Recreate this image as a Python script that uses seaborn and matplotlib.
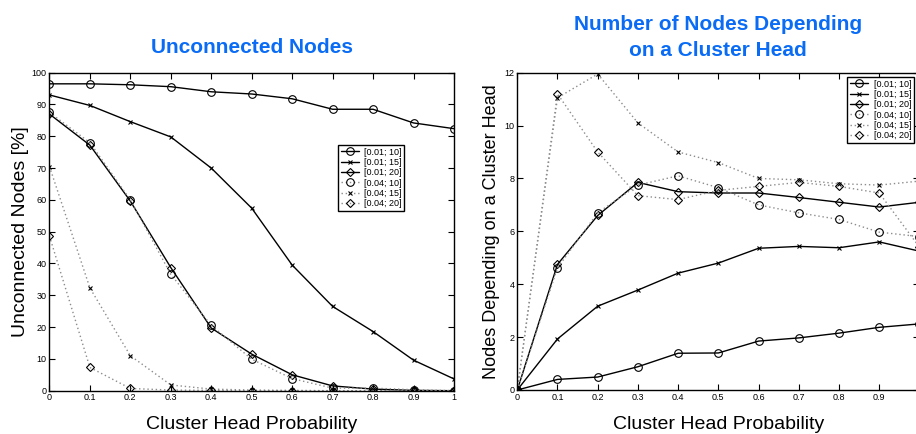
"""
Cluster head probability: unconnected nodes and nodes per cluster head.
Two side-by-side MATLAB-style line charts, saved as out.png.
"""

import matplotlib
matplotlib.use("Agg")

import matplotlib.pyplot as plt
import seaborn as sns

sns.set_theme(style="ticks")
plt.rcParams["font.family"] = ["Liberation Sans", "DejaVu Sans"]
plt.rcParams["text.color"] = "black"
plt.rcParams["axes.labelcolor"] = "black"

# Probabilidade de cluster head (eixo x)
prob = [0.0, 0.1, 0.2, 0.3, 0.4, 0.5, 0.6, 0.7, 0.8, 0.9, 1.0]
x_ticks = [0, 0.1, 0.2, 0.3, 0.4, 0.5, 0.6, 0.7, 0.8, 0.9, 1]
x_labels = ["0", "0.1", "0.2", "0.3", "0.4", "0.5", "0.6", "0.7", "0.8", "0.9", "1"]

series_names = ["[0.01; 10]", "[0.01; 15]", "[0.01; 20]",
                "[0.04; 10]", "[0.04; 15]", "[0.04; 20]"]

# Unconnected nodes [%]
unc_001_10 = [96.5, 96.5, 96.2, 95.6, 94.0, 93.3, 91.8, 88.5, 88.5, 84.2, 82.4]
unc_001_15 = [93.0, 89.7, 84.6, 79.8, 70.0, 57.4, 39.5, 26.5, 18.6, 9.6, 3.7]
unc_001_20 = [87.0, 77.2, 59.6, 38.7, 19.7, 11.5, 5.0, 1.5, 0.5, 0.1, 0.0]
unc_004_10 = [87.5, 78.0, 60.0, 36.6, 20.5, 9.9, 3.8, 0.8, 0.8, 0.3, 0.0]
unc_004_15 = [70.5, 32.3, 11.0, 1.8, 0.5, 0.2, 0.1, 0.0, 0.0, 0.0, 0.0]
unc_004_20 = [48.6, 7.3, 0.7, 0.2, 0.1, 0.0, 0.0, 0.0, 0.0, 0.0, 0.0]

# Nodes depending on a cluster head
dep_001_10 = [0.0, 0.40, 0.49, 0.88, 1.39, 1.40, 1.85, 1.97, 2.15, 2.37, 2.5]
dep_001_15 = [0.0, 1.93, 3.17, 3.78, 4.42, 4.80, 5.36, 5.43, 5.38, 5.60, 5.25]
dep_001_20 = [0.0, 4.75, 6.60, 7.85, 7.50, 7.45, 7.45, 7.28, 7.10, 6.92, 7.1]
dep_004_10 = [0.0, 4.62, 6.70, 7.75, 8.10, 7.65, 7.00, 6.70, 6.45, 5.97, 5.8]
dep_004_15 = [0.0, 11.05, 11.95, 10.10, 9.00, 8.60, 8.00, 7.95, 7.80, 7.75, 7.9]
dep_004_20 = [0.0, 11.20, 9.00, 7.35, 7.20, 7.55, 7.70, 7.85, 7.70, 7.45, 5.4]

unconnected = [unc_001_10, unc_001_15, unc_001_20, unc_004_10, unc_004_15, unc_004_20]
depending = [dep_001_10, dep_001_15, dep_001_20, dep_004_10, dep_004_15, dep_004_20]

markers = ["o", "x", "D", "o", "x", "D"]
msizes = [5.5, 3.5, 4.3, 5.5, 3.5, 4.3]
solid = [True, True, True, False, False, False]

TITLE_BLUE = "#0a6cf5"


def desenha(ax, dados, legend_loc, x_labels):
    for nome, ys, mk, ms, cheia in zip(series_names, dados, markers, msizes, solid):
        sns.lineplot(x=prob, y=ys, ax=ax, label=nome,
                     color="black" if cheia else "#8c8c8c",
                     linestyle="-" if cheia else (0, (1, 2)),
                     linewidth=1.0,
                     marker=mk, markersize=ms,
                     markerfacecolor="none", markeredgecolor="black",
                     markeredgewidth=0.8)
    ax.set_xlim(0, 1)
    ax.set_xticks(x_ticks)
    ax.set_xticklabels(x_labels)
    ax.tick_params(direction="in", top=True, right=True, length=4,
                   width=0.8, labelsize=6.5, pad=2, colors="black")
    for s in ax.spines.values():
        s.set_color("black")
        s.set_linewidth(1.0)
    ax.set_xlabel("Cluster Head Probability", fontsize=14, labelpad=10)
    leg = ax.legend(loc="upper left", bbox_to_anchor=legend_loc,
                    fontsize=6.5, frameon=True, fancybox=False, framealpha=1,
                    edgecolor="black", borderpad=0.3, labelspacing=0.15,
                    handlelength=2.0, handletextpad=0.6, borderaxespad=0)
    leg.get_frame().set_linewidth(1.0)


fig = plt.figure(figsize=(9.16, 4.34), dpi=100)
ax1 = fig.add_axes([0.054, 0.0998, 0.4416, 0.7327])
ax2 = fig.add_axes([0.5647, 0.1014, 0.4391, 0.7311])

desenha(ax1, unconnected, (0.713, 0.773), x_labels)
ax1.set_ylim(0, 100)
ax1.set_yticks(range(0, 101, 10))
ax1.set_ylabel("Unconnected Nodes [%]", fontsize=14, labelpad=2)
ax1.set_title("Unconnected Nodes", fontsize=15, fontweight="bold",
              color=TITLE_BLUE, pad=14)

# o painel direito fica cortado na borda: o rótulo "1" não aparece
desenha(ax2, depending, (0.821, 0.987), x_labels[:-1] + [""])
ax2.set_ylim(0, 12)
ax2.set_yticks(range(0, 13, 2))
ax2.set_ylabel("Nodes Depending on a Cluster Head", fontsize=13, labelpad=3)
ax2.set_title("Number of Nodes Depending\non a Cluster Head", fontsize=15,
              fontweight="bold", color=TITLE_BLUE, pad=12, linespacing=1.5)

fig.savefig("out.png", dpi=100)
plt.close(fig)
